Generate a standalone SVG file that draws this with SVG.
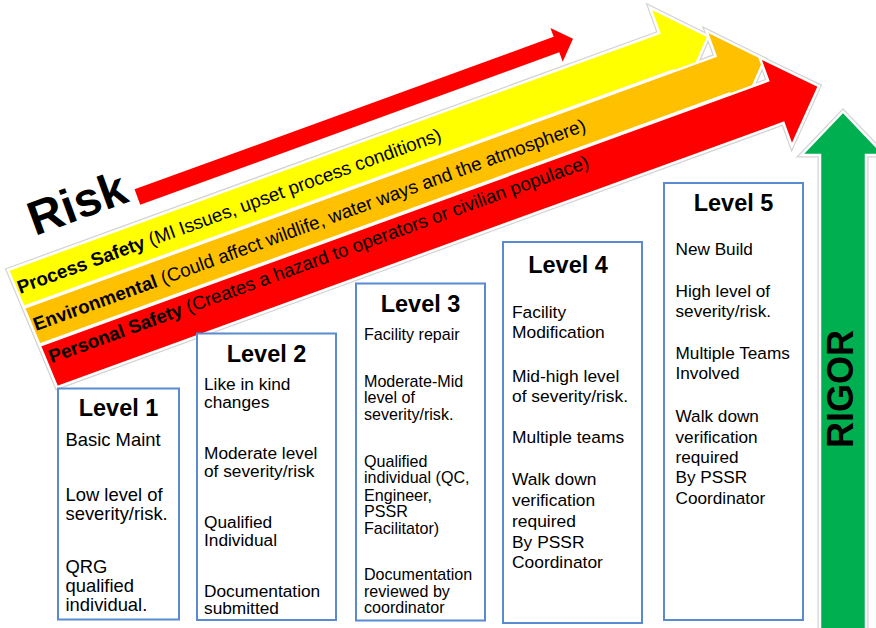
<svg xmlns="http://www.w3.org/2000/svg" width="876" height="628" viewBox="0 0 876 628">
  <style>
    text { font-family: "Liberation Sans", Arial, sans-serif; fill: #000; }
    .b { font-weight: bold; }
    .band { font-size: 18.8px; }
    .title { font-size: 23.5px; font-weight: bold; text-anchor: middle; }
    .box { fill: #fff; stroke: #5a8ad0; stroke-width: 2; }
    .halo { fill: none; stroke: #d4d4d4; stroke-width: 5; stroke-linejoin: miter; }
    .edge { stroke: #fff; stroke-width: 2.5; stroke-linejoin: miter; }
  </style>
  <rect width="876" height="628" fill="#fff"/>

  <g id="arrows">
    <g id="risk-bands" transform="translate(8,270) rotate(-20)">
      <path class="halo" d="M0,0 L693,0 L693,-27 L738,20 L693,67 L693,40 L2,40 Z"/>
      <path class="halo" d="M2,41 L738,41 L738,14 L783,61 L738,108 L738,81 L4,81 Z"/>
      <path class="halo" d="M4,82 L779,82 L779,57.5 L825,104.5 L779,151.5 L779,127 L6,127 Z"/>
      <path class="edge" fill="#ffff00" d="M0,0 L693,0 L693,-27 L738,20 L693,67 L693,40 L2,40 Z"/>
      <path class="edge" fill="#ffc000" d="M2,41 L738,41 L738,14 L783,61 L738,108 L738,81 L4,81 Z"/>
      <path class="edge" fill="#ff0000" d="M4,82 L779,82 L779,57.5 L825,104.5 L779,151.5 L779,127 L6,127 Z"/>
      <path id="risk-arrow" fill="#ff0000" d="M146.5,-32.5 L592.5,-32.5 L592.5,-42 L610,-24 L592.5,-6 L592.5,-16 L146.5,-16 Z"/>
      <text class="band" x="3" y="26.5"><tspan class="b">Process Safety</tspan> (MI Issues, upset process conditions)</text>
      <text class="band" x="5.5" y="67"><tspan class="b">Environmental</tspan> (Could affect wildlife, water ways and the atmosphere)</text>
      <text class="band" x="9" y="102.5"><tspan class="b">Personal Safety</tspan> (Creates a hazard to operators or civilian populace)</text>
    </g>
    <g id="rigor-arrow">
      <path class="halo" d="M820,632 V155 H801.5 L843,111.5 L884.5,155 H866 V632 Z"/>
      <path class="edge" fill="#00b050" d="M820,632 V155 H801.5 L843,111.5 L884.5,155 H866 V632 Z"/>
      <text class="b" font-size="36" text-anchor="middle" transform="translate(853,389) rotate(-90)">RIGOR</text>
    </g>
  </g>

  <g id="risk-label">
    <text class="b" font-size="48" transform="translate(35,236) rotate(-20)">Risk</text>
  </g>

  <g id="level1">
    <rect class="box" x="58" y="388.5" width="121" height="231"/>
    <text class="title" x="118.5" y="416">Level 1</text>
    <text font-size="18.4">
      <tspan x="65.5" y="445.7">Basic Maint</tspan>
      <tspan x="65.5" y="500.7">Low level of</tspan>
      <tspan x="65.5" y="519.5">severity/risk.</tspan>
      <tspan x="65.5" y="573.3">QRG</tspan>
      <tspan x="65.5" y="592">qualified</tspan>
      <tspan x="65.5" y="610.7">individual.</tspan>
    </text>
  </g>

  <g id="level2">
    <rect class="box" x="197" y="333.5" width="139" height="286.5"/>
    <text class="title" x="266.5" y="361.7">Level 2</text>
    <text font-size="17.3">
      <tspan x="204" y="390">Like in kind</tspan>
      <tspan x="204" y="408.3">changes</tspan>
      <tspan x="204" y="459.3">Moderate level</tspan>
      <tspan x="204" y="476.7">of severity/risk</tspan>
      <tspan x="204" y="527.7">Qualified</tspan>
      <tspan x="204" y="546">Individual</tspan>
      <tspan x="204" y="596.7">Documentation</tspan>
      <tspan x="204" y="614">submitted</tspan>
    </text>
  </g>

  <g id="level3">
    <rect class="box" x="356" y="283.5" width="129" height="337"/>
    <text class="title" x="420.5" y="311.7">Level 3</text>
    <text font-size="16.1">
      <tspan x="364" y="340">Facility repair</tspan>
      <tspan x="364" y="386.7">Moderate-Mid</tspan>
      <tspan x="364" y="403.3">level of</tspan>
      <tspan x="364" y="420">severity/risk.</tspan>
      <tspan x="364" y="466.7">Qualified</tspan>
      <tspan x="364" y="483.3">individual (QC,</tspan>
      <tspan x="364" y="500.7">Engineer,</tspan>
      <tspan x="364" y="517.3">PSSR</tspan>
      <tspan x="364" y="534">Facilitator)</tspan>
      <tspan x="364" y="580">Documentation</tspan>
      <tspan x="364" y="596.7">reviewed by</tspan>
      <tspan x="364" y="612.7">coordinator</tspan>
    </text>
  </g>

  <g id="level4">
    <rect class="box" x="503" y="242" width="139" height="381"/>
    <text class="title" x="568" y="273.3">Level 4</text>
    <text font-size="17.4">
      <tspan x="512" y="318.3">Facility</tspan>
      <tspan x="512" y="338.3">Modification</tspan>
      <tspan x="512" y="381.7">Mid-high level</tspan>
      <tspan x="512" y="401.7">of severity/risk.</tspan>
      <tspan x="512" y="443.3">Multiple teams</tspan>
      <tspan x="512" y="485">Walk down</tspan>
      <tspan x="512" y="506">verification</tspan>
      <tspan x="512" y="526.7">required</tspan>
      <tspan x="512" y="548.3">By PSSR</tspan>
      <tspan x="512" y="568.3">Coordinator</tspan>
    </text>
  </g>

  <g id="level5">
    <rect class="box" x="664" y="183" width="139" height="437"/>
    <text class="title" x="733.5" y="210.7">Level 5</text>
    <text font-size="17.2">
      <tspan x="675.5" y="255">New Build</tspan>
      <tspan x="675.5" y="297.3">High level of</tspan>
      <tspan x="675.5" y="317.3">severity/risk.</tspan>
      <tspan x="675.5" y="359.3">Multiple Teams</tspan>
      <tspan x="675.5" y="379.3">Involved</tspan>
      <tspan x="675.5" y="421.7">Walk down</tspan>
      <tspan x="675.5" y="442.7">verification</tspan>
      <tspan x="675.5" y="462.7">required</tspan>
      <tspan x="675.5" y="483.3">By PSSR</tspan>
      <tspan x="675.5" y="504">Coordinator</tspan>
    </text>
  </g>
</svg>
